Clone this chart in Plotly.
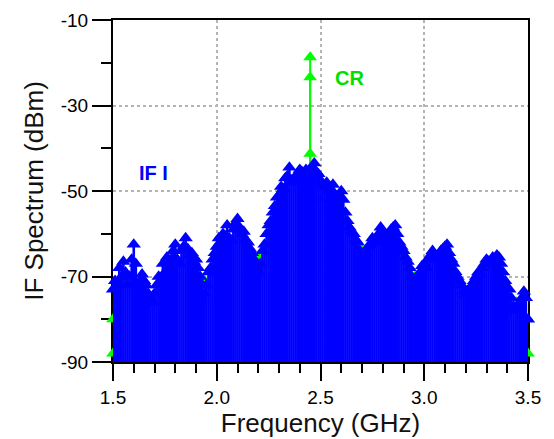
import plotly.graph_objects as go

# ---------------- data ----------------
freq_ghz = [
    1.50, 1.51, 1.52, 1.53, 1.54, 1.55, 1.56, 1.57, 1.58, 1.59,
    1.60, 1.61, 1.62, 1.63, 1.64, 1.65, 1.66, 1.67, 1.68, 1.69,
    1.70, 1.71, 1.72, 1.73, 1.74, 1.75, 1.76, 1.77, 1.78, 1.79,
    1.80, 1.81, 1.82, 1.83, 1.84, 1.85, 1.86, 1.87, 1.88, 1.89,
    1.90, 1.91, 1.92, 1.93, 1.94, 1.95, 1.96, 1.97, 1.98, 1.99,
    2.00, 2.01, 2.02, 2.03, 2.04, 2.05, 2.06, 2.07, 2.08, 2.09,
    2.10, 2.11, 2.12, 2.13, 2.14, 2.15, 2.16, 2.17, 2.18, 2.19,
    2.20, 2.21, 2.22, 2.23, 2.24, 2.25, 2.26, 2.27, 2.28, 2.29,
    2.30, 2.31, 2.32, 2.33, 2.34, 2.35, 2.36, 2.37, 2.38, 2.39,
    2.40, 2.41, 2.42, 2.43, 2.44, 2.45, 2.46, 2.47, 2.48, 2.49,
    2.50, 2.51, 2.52, 2.53, 2.54, 2.55, 2.56, 2.57, 2.58, 2.59,
    2.60, 2.61, 2.62, 2.63, 2.64, 2.65, 2.66, 2.67, 2.68, 2.69,
    2.70, 2.71, 2.72, 2.73, 2.74, 2.75, 2.76, 2.77, 2.78, 2.79,
    2.80, 2.81, 2.82, 2.83, 2.84, 2.85, 2.86, 2.87, 2.88, 2.89,
    2.90, 2.91, 2.92, 2.93, 2.94, 2.95, 2.96, 2.97, 2.98, 2.99,
    3.00, 3.01, 3.02, 3.03, 3.04, 3.05, 3.06, 3.07, 3.08, 3.09,
    3.10, 3.11, 3.12, 3.13, 3.14, 3.15, 3.16, 3.17, 3.18, 3.19,
    3.20, 3.21, 3.22, 3.23, 3.24, 3.25, 3.26, 3.27, 3.28, 3.29,
    3.30, 3.31, 3.32, 3.33, 3.34, 3.35, 3.36, 3.37, 3.38, 3.39,
    3.40, 3.41, 3.42, 3.43, 3.44, 3.45, 3.46, 3.47, 3.48, 3.49,
    3.50,
]

if_i_dbm = [
    -73, -71, -72, -68, -70, -66.5, -69, -72, -70, -66,
    -62.5, -67, -73, -71, -69.5, -71, -72, -74, -75, -76,
    -74, -72, -70, -71, -67, -69, -65.5, -67, -66, -64,
    -62.5, -66, -67, -64, -63, -61, -63.5, -65, -64.5, -66.5,
    -66, -68, -70, -72, -74, -72, -69, -68, -66, -64.5,
    -63, -61, -62, -60, -60.5, -58, -61, -61.5, -59, -57.5,
    -56.5, -58.5, -60, -59.5, -61.5, -62, -63.5, -64.5, -66, -67.5,
    -69, -67, -64, -62.5, -60, -58, -57, -55, -53.5, -51.5,
    -51, -49, -49.5, -47, -46.5, -44.5, -47.5, -48, -46.5, -47,
    -45, -45.5, -46.5, -45, -45.5, -46, -44.5, -43.5, -45.5, -46,
    -47.5, -48.5, -49, -48, -50, -49.5, -48.5, -51, -52, -51,
    -50, -52, -55, -57, -58.5, -59.5, -60, -61.5, -62, -64,
    -66, -65, -64.6, -63, -62.5, -61, -62, -61.5, -60, -58.5,
    -59.5, -60, -61.5, -60, -59, -58.5, -58, -60, -62, -63,
    -64, -65.5, -66.5, -68, -70, -72.5, -71, -70, -69, -67.5,
    -67, -68, -66, -65, -64, -65, -66, -65, -64, -63.5,
    -63, -62.5, -64.5, -66, -67, -68.9, -70, -71, -72, -73.5,
    -74.3, -74, -73, -72, -71, -70, -69, -69.5, -68, -67,
    -66, -66.5, -67, -65.5, -66, -65, -65.5, -67, -69, -71,
    -72.8, -73, -75, -77, -78, -77, -76, -75, -73.5, -75,
    -80,
]

cr_freq_ghz = [2.45, 2.45, 2.45]
cr_dbm = [-18.7, -23.4, -41.3]

green_freq_ghz = [1.50, 1.50, 1.943, 2.20, 2.497, 2.70, 2.955, 3.445, 3.50]
green_dbm = [-88, -80, -71, -65.5, -52, -64, -70, -76, -88]

x_tick_vals = [1.5, 2.0, 2.5, 3.0, 3.5]
x_tick_text = ["1.5", "2.0", "2.5", "3.0", "3.5"]
y_tick_vals = [-90, -70, -50, -30, -10]
y_tick_text = ["-90", "-70", "-50", "-30", "-10"]

X_RANGE = [1.5, 3.5]
Y_RANGE = [-90, -10]

BLUE = "#0000ff"
GREEN = "#00ff00"
FONT = "Liberation Sans, Arial, sans-serif"


def stems(xs, ys, floor):
    sx, sy = [], []
    for x, y in zip(xs, ys):
        sx += [x, x, None]
        sy += [floor, y, None]
    return sx, sy


fig = go.Figure()

# green (CR / LO) spectrum, drawn underneath
gsx, gsy = stems(green_freq_ghz + cr_freq_ghz, green_dbm + cr_dbm, Y_RANGE[0])
fig.add_trace(go.Scatter(x=gsx, y=gsy, mode="lines",
                         line=dict(color=GREEN, width=2), hoverinfo="skip",
                         showlegend=False))
fig.add_trace(go.Scatter(x=X_RANGE, y=[Y_RANGE[0], Y_RANGE[0]], mode="lines",
                         line=dict(color=GREEN, width=2), showlegend=False,
                         cliponaxis=False))
fig.add_trace(go.Scatter(x=green_freq_ghz + cr_freq_ghz, y=green_dbm + cr_dbm,
                         mode="markers",
                         marker=dict(symbol="triangle-up", size=12, color=GREEN),
                         showlegend=False, cliponaxis=False))

# blue IF I spectrum
bsx, bsy = stems(freq_ghz, if_i_dbm, Y_RANGE[0])
fig.add_trace(go.Scatter(x=bsx, y=bsy, mode="lines",
                         line=dict(color=BLUE, width=2.6), hoverinfo="skip",
                         showlegend=False))
fig.add_trace(go.Scatter(x=freq_ghz, y=if_i_dbm, mode="markers",
                         marker=dict(symbol="triangle-up", size=12.5, color=BLUE),
                         showlegend=False, cliponaxis=False))

fig.add_annotation(x=2.642, y=-23.6, text="CR", showarrow=False,
                   font=dict(family=FONT, size=20, color="#00e000", weight="bold"))
fig.add_annotation(x=1.693, y=-45.8, text="IF I", showarrow=False,
                   font=dict(family=FONT, size=20, color=BLUE, weight="bold"))

axis_common = dict(
    showline=True, linecolor="black", linewidth=2, mirror=True,
    ticks="outside", tickcolor="black", tickwidth=2,
    showgrid=True, gridcolor="#b4b4b4", griddash="dot", gridwidth=1.5,
    zeroline=False, layer="below traces",
    tickfont=dict(family=FONT, size=19, color="black"),
)

fig.update_xaxes(
    range=X_RANGE, tickmode="array", tickvals=x_tick_vals, ticktext=x_tick_text,
    ticklen=17,
    minor=dict(ticks="outside", dtick=0.1, tick0=1.5, ticklen=9, tickwidth=2,
               tickcolor="black", showgrid=False),
    title=dict(text="Frequency (GHz)", font=dict(family=FONT, size=26, color="#111"),
               standoff=5),
    **axis_common,
)
fig.update_yaxes(
    range=Y_RANGE, tickmode="array", tickvals=y_tick_vals, ticktext=y_tick_text,
    ticklen=19,
    minor=dict(ticks="outside", dtick=10, tick0=-90, ticklen=10, tickwidth=2,
               tickcolor="black", showgrid=False),
    title=dict(text="IF Spectrum (dBm)", font=dict(family=FONT, size=26, color="#111"),
               standoff=10),
    **axis_common,
)

fig.update_layout(
    width=554, height=439,
    margin=dict(l=113, r=26, t=20, b=77, autoexpand=False),
    plot_bgcolor="white", paper_bgcolor="white",
    showlegend=False,
)

fig.write_html("out.html")
